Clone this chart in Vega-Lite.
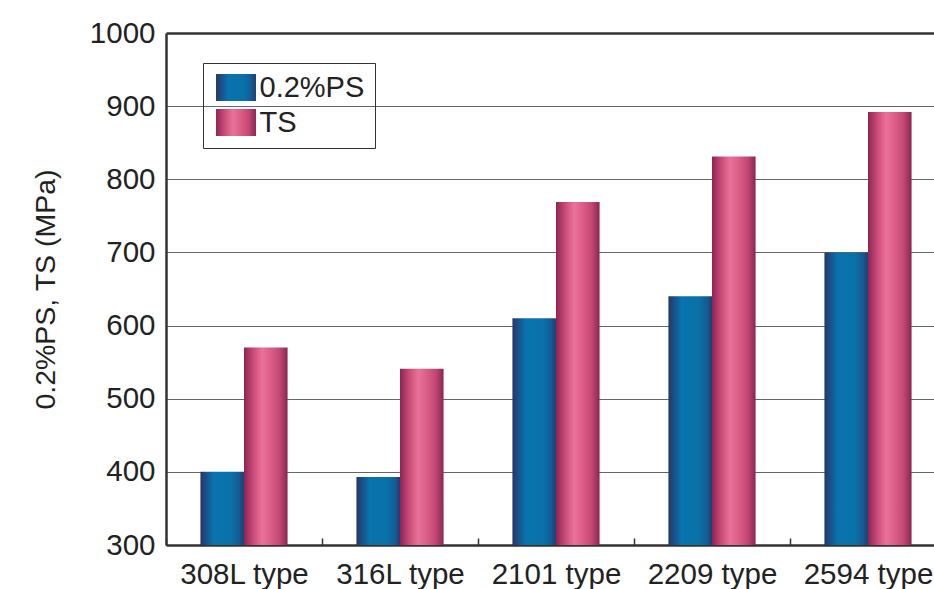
{
  "$schema": "https://vega.github.io/schema/vega-lite/v6.json",
  "width": 768,
  "height": 512,
  "autosize": {"type": "none"},
  "padding": {"left": 166, "top": 33, "right": 0, "bottom": 44},
  "background": "white",
  "config": {
    "font": "Liberation Sans",
    "view": {"stroke": null},
    "axis": {"labelColor": "#222", "titleColor": "#222", "labelFontSize": 29.5, "titleFontSize": 28.5, "titleFontWeight": "normal"}
  },
  "data": {
    "values": [
      {"type": "308L type", "metric": "0.2%PS", "value": 400},
      {"type": "308L type", "metric": "TS", "value": 570},
      {"type": "316L type", "metric": "0.2%PS", "value": 393},
      {"type": "316L type", "metric": "TS", "value": 541},
      {"type": "2101 type", "metric": "0.2%PS", "value": 610},
      {"type": "2101 type", "metric": "TS", "value": 769},
      {"type": "2209 type", "metric": "0.2%PS", "value": 640},
      {"type": "2209 type", "metric": "TS", "value": 831},
      {"type": "2594 type", "metric": "0.2%PS", "value": 700},
      {"type": "2594 type", "metric": "TS", "value": 892}
    ]
  },
  "mark": {"type": "bar", "strokeWidth": 0},
  "encoding": {
    "x": {
      "field": "type",
      "type": "nominal",
      "sort": ["308L type", "316L type", "2101 type", "2209 type", "2594 type"],
      "scale": {"range": [0, 780], "paddingInner": 0, "paddingOuter": 0},
      "axis": {
        "title": null,
        "labelAngle": 0,
        "domainColor": "#333",
        "domainWidth": 2.5,
        "ticks": true,
        "tickBand": "extent",
        "tickSize": -7,
        "tickColor": "#333",
        "tickWidth": 1.5,
        "labelPadding": 22,
        "grid": false
      }
    },
    "xOffset": {
      "field": "metric",
      "type": "nominal",
      "sort": ["0.2%PS", "TS"],
      "scale": {"paddingInner": 0, "paddingOuter": 0.79}
    },
    "y": {
      "field": "value",
      "type": "quantitative",
      "scale": {"domain": [300, 1000], "zero": false, "nice": false},
      "axis": {
        "title": "0.2%PS, TS (MPa)",
        "values": [300, 400, 500, 600, 700, 800, 900, 1000],
        "format": "d",
        "domainColor": "#333",
        "domainWidth": 2.5,
        "ticks": false,
        "labelPadding": 11,
        "titlePadding": 29,
        "grid": true,
        "gridColor": {"condition": {"test": "datum.value === 1000", "value": "#333"}, "value": "#666"},
        "gridWidth": {"condition": {"test": "datum.value === 1000", "value": 2.5}, "value": 1.2}
      }
    },
    "y2": {"datum": 300},
    "fill": {
      "field": "metric",
      "type": "nominal",
      "sort": ["0.2%PS", "TS"],
      "scale": {
        "domain": ["0.2%PS", "TS"],
        "range": [
          {"expr": "{gradient: 'linear', x1: 0, y1: 0, x2: 1, y2: 0, stops: [{offset: 0, color: '#283665'}, {offset: 0.12, color: '#1b4d85'}, {offset: 0.3, color: '#0873ad'}, {offset: 0.7, color: '#0a71a9'}, {offset: 0.88, color: '#145c94'}, {offset: 1, color: '#203e70'}]}"},
          {"expr": "{gradient: 'linear', x1: 0, y1: 0, x2: 1, y2: 0, stops: [{offset: 0, color: '#8c2452'}, {offset: 0.15, color: '#b8406e'}, {offset: 0.3, color: '#db5b86'}, {offset: 0.42, color: '#e8729a'}, {offset: 0.62, color: '#dc5c87'}, {offset: 0.82, color: '#c04873'}, {offset: 1, color: '#8c2452'}]}"}
        ]
      },
      "legend": {
        "title": null,
        "orient": "none",
        "legendX": 37,
        "legendY": 30,
        "strokeColor": "#333",
        "padding": 10,
        "symbolType": "M-1.48,-1H1.48V1H-1.48Z",
        "symbolSize": 729,
        "symbolOffset": 8.5,
        "symbolStrokeWidth": 0,
        "labelFontSize": 29,
        "labelColor": "#222",
        "labelOffset": 9,
        "rowPadding": 5,
        "encode": {
          "labels": {
            "update": {
              "text": {"signal": "datum.label + '\u00a0\u00a0\u00a0'"}
            }
          }
        }
      }
    }
  }
}
